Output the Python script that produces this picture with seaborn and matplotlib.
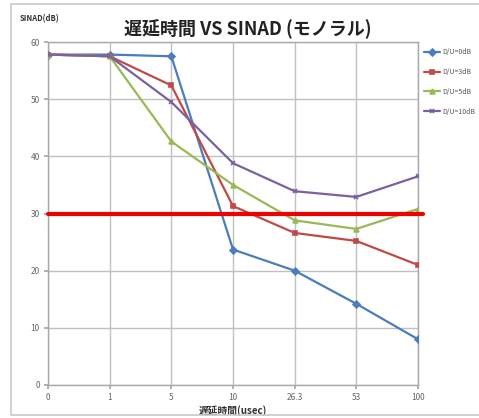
import matplotlib
matplotlib.use("Agg")
import matplotlib.pyplot as plt
import seaborn as sns
import pandas as pd
from matplotlib.patches import Rectangle

delays = ["0", "1", "5", "10", "26.3", "53", "100"]
du_0db = [57.8, 57.8, 57.5, 23.7, 20.0, 14.2, 8.0]
du_3db = [57.8, 57.5, 52.4, 31.3, 26.6, 25.2, 21.0]
du_5db = [57.8, 57.5, 42.6, 35.0, 28.8, 27.3, 30.8]
du_10db = [57.8, 57.5, 49.5, 38.8, 33.9, 32.9, 36.5]
series_names = ["D/U=0dB", "D/U=3dB", "D/U=5dB", "D/U=10dB"]
threshold = 30

sns.set_theme(style="white")
plt.rcParams['font.family'] = ['Noto Sans CJK JP', 'DejaVu Sans']

rows = []
for name, vals in zip(series_names, [du_0db, du_3db, du_5db, du_10db]):
    for d, v in zip(delays, vals):
        rows.append({"delay": d, "sinad": v, "series": name})
df = pd.DataFrame(rows)

colors = ["#4a7ebb", "#be4b48", "#98b954", "#7d60a0"]
markers = ["D", "s", "^", "x"]

fig = plt.figure(figsize=(4.79, 4.18), dpi=100)
ax = fig.add_axes([48/479, 1 - 385/418, 370/479, 343/418])

sns.pointplot(data=df, x="delay", y="sinad", hue="series", order=delays,
              hue_order=series_names, palette=colors, markers=markers,
              linestyles="-", ax=ax, markersize=3.5, linewidth=1.6,
              errorbar=None, zorder=3)

ax.axhline(threshold, color="#ee0000", linewidth=3, xmin=0, xmax=1.013,
           clip_on=False, zorder=4)

ax.set_xlim(0, 6)
ax.set_ylim(0, 60)
ax.set_yticks(range(0, 61, 10))
ax.grid(True, color="#c0c0c0", linewidth=1)
ax.set_axisbelow(True)
for s in ax.spines.values():
    s.set_color("#a8a8a8")
    s.set_linewidth(1)
ax.tick_params(axis="both", labelsize=6, colors="#666666", length=3,
               direction="out", left=True, bottom=True, pad=3, color="#a8a8a8")
ax.set_xlabel("遅延時間(usec)", fontsize=7, fontweight="bold", color="#333333", labelpad=2)
ax.set_ylabel("")

fig.text(20/479, 1 - 19/418, "SINAD(dB)", fontsize=5.5, fontweight="bold",
         color="#333333", ha="left", va="center")
fig.text(248/479, 1 - 29/418, "遅延時間 VS SINAD (モノラル)", fontsize=13,
         fontweight="bold", color="#222222", ha="center", va="center")

leg = ax.legend(loc="upper left", bbox_to_anchor=(1.01, 0.99), frameon=False,
                fontsize=5, labelspacing=1.7, handlelength=2.2, handletextpad=0.4,
                borderaxespad=0)
for t in leg.get_texts():
    t.set_color("#555555")

fig.patches.append(Rectangle((11/479, 1 - 415/418), 1.0, 411/418,
                             transform=fig.transFigure, fill=False,
                             edgecolor="#c8c8c8", linewidth=1.2))

fig.savefig("out.png", dpi=100, facecolor="white")
